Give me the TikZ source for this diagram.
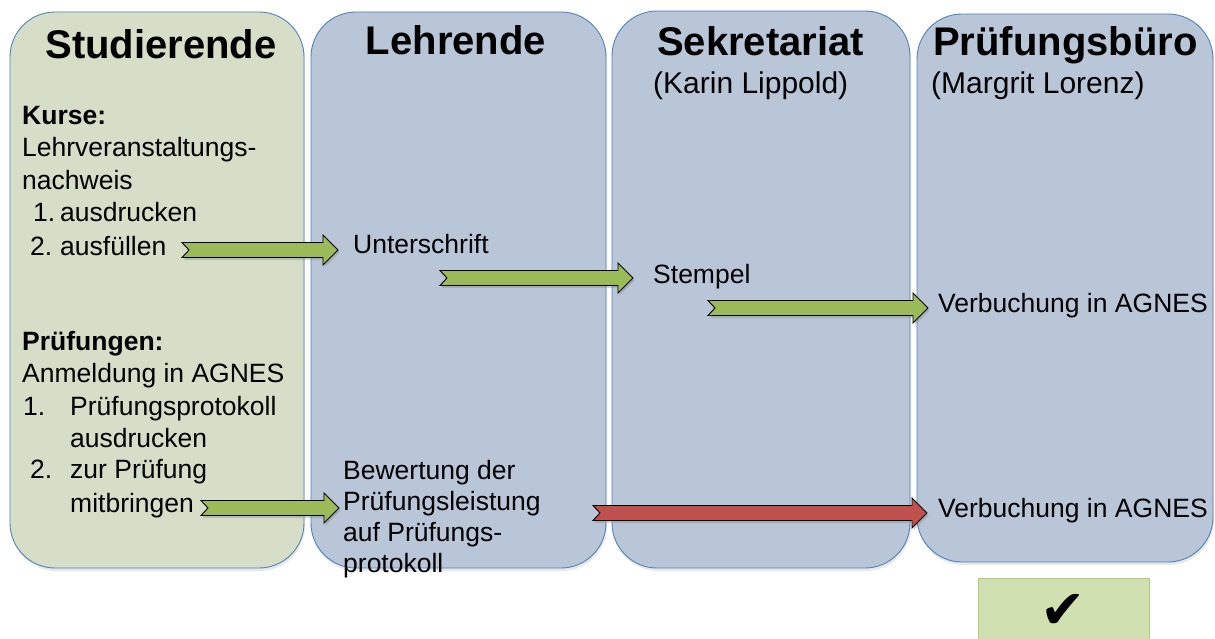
\documentclass[tikz,border=0pt]{standalone}
\usepackage{fontspec}
\setmainfont{Liberation Sans}
\newfontfamily\symfont{DejaVu Sans}
\usetikzlibrary{calc,shadows}
\definecolor{laneblue}{RGB}{185,198,216}
\definecolor{lanegreen}{RGB}{215,222,199}
\definecolor{laneedge}{RGB}{79,129,189}
\definecolor{arrgreen}{RGB}{155,187,89}
\definecolor{arrred}{RGB}{192,80,77}
\definecolor{okfill}{RGB}{209,224,176}
\definecolor{okedge}{RGB}{175,205,120}
\tikzset{
  lane/.style={draw=laneedge, line width=0.9pt, rounded corners=45pt, inner sep=0pt,
    drop shadow={shadow xshift=1pt, shadow yshift=-3pt, opacity=0.18}},
  head/.style={font=\fontsize{40}{44}\selectfont\bfseries, inner sep=0pt},
  sub/.style={font=\fontsize{30}{34}\selectfont, inner sep=0pt, anchor=base west},
  txt/.style={font=\fontsize{26.5}{32}\selectfont, inner sep=0pt, anchor=base west},
  btxt/.style={txt, font=\fontsize{26.5}{32}\selectfont\bfseries},
  barrow/.style={draw=black, line width=0.9pt, line join=miter,
    drop shadow={shadow xshift=1.5pt, shadow yshift=-2.5pt, opacity=0.35}},
  okbox/.style={draw=okedge, fill=okfill, line width=1pt, inner sep=0pt}
}
\newcommand{\blockarrow}[3]{%
  \draw[barrow, fill=#3] let \p1=(#1), \p2=(#2) in
    (\x1,\y1+7.5pt) -- (\x2-15pt,\y1+7.5pt) -- (\x2-15pt,\y1+15pt) -- (\x2,\y1)
    -- (\x2-15pt,\y1-15pt) -- (\x2-15pt,\y1-7.5pt) -- (\x1,\y1-7.5pt)
    -- (\x1+7pt,\y1) -- cycle;}
\begin{document}
\begin{tikzpicture}[x=1pt,y=-1pt]
\useasboundingbox (0,0) rectangle (1215,639);
% lanes
\node[lane, fill=lanegreen, minimum width=294pt, minimum height=556pt] (stud) at (157,290) {};
\node[lane, fill=laneblue, minimum width=295pt, minimum height=556pt] (lehr) at (458.5,290) {};
\node[lane, fill=laneblue, minimum width=298pt, minimum height=557pt] (sekr) at (761,289.5) {};
\node[lane, fill=laneblue, minimum width=296pt, minimum height=548pt] (pbuero) at (1065,288) {};
% headings
\node[head, anchor=base] (hstud) at (161,59) {Studierende};
\node[head, anchor=base] (hlehr) at (456,55) {Lehrende};
\node[head, anchor=base west] (hsekr) at (657,56) {Sekretariat};
\node[head, anchor=base west] (hpb) at (933,56) {Prüfungsbüro};
\node[sub] (ssekr) at (653,94) {(Karin Lippold)};
\node[sub] (spb) at (931,94) {(Margrit Lorenz)};
% lane 1 text
\node[btxt] (k1) at (22,125) {Kurse:};
\node[txt] (k2) at (22,157) {Lehrveranstaltungs-};
\node[txt] (k3) at (22,190) {nachweis};
\node[txt] (k4n) at (33,222) {1.};
\node[txt] (k4) at (60,222) {ausdrucken};
\node[txt] (k5n) at (30,255) {2.};
\node[txt] (k5) at (60,255) {ausfüllen};
\node[btxt] (p1) at (22,350) {Prüfungen:};
\node[txt] (p2) at (22,382) {Anmeldung in AGNES};
\node[txt] (p3n) at (23,415) {1.};
\node[txt] (p3) at (70,415) {Prüfungsprotokoll};
\node[txt] (p4) at (70,447) {ausdrucken};
\node[txt] (p5n) at (30,478) {2.};
\node[txt] (p5) at (70,478) {zur Prüfung};
\node[txt] (p6) at (70,512) {mitbringen};
% lane 2 text
\node[txt] (u1) at (353,253) {Unterschrift};
\node[txt] (b1) at (343,479) {Bewertung der};
\node[txt] (b2) at (343,510) {Prüfungsleistung};
\node[txt] (b3) at (343,541) {auf Prüfungs-};
\node[txt] (b4) at (343,572) {protokoll};
% lane 3 / 4 text
\node[txt] (st) at (653,283) {Stempel};
\node[txt] (v1) at (938,312) {Verbuchung in AGNES};
\node[txt] (v2) at (938,517) {Verbuchung in AGNES};
% check box
\node[okbox, minimum width=171pt, minimum height=70pt] (ok) at (1063.5,613) {};
\node[font=\symfont\fontsize{54}{58}\selectfont, inner sep=0pt] (tick) at (1063,611) {✔};
% arrows
\coordinate (a1s) at (182,250); \coordinate (a1e) at (338,250);
\coordinate (a2s) at (440,278); \coordinate (a2e) at (633,278);
\coordinate (a3s) at (708,308); \coordinate (a3e) at (928,308);
\coordinate (a4s) at (201,508); \coordinate (a4e) at (339,508);
\coordinate (a5s) at (593,513); \coordinate (a5e) at (927,513);
\blockarrow{a1s}{a1e}{arrgreen}
\blockarrow{a2s}{a2e}{arrgreen}
\blockarrow{a3s}{a3e}{arrgreen}
\blockarrow{a4s}{a4e}{arrgreen}
\blockarrow{a5s}{a5e}{arrred}
\end{tikzpicture}
\end{document}
